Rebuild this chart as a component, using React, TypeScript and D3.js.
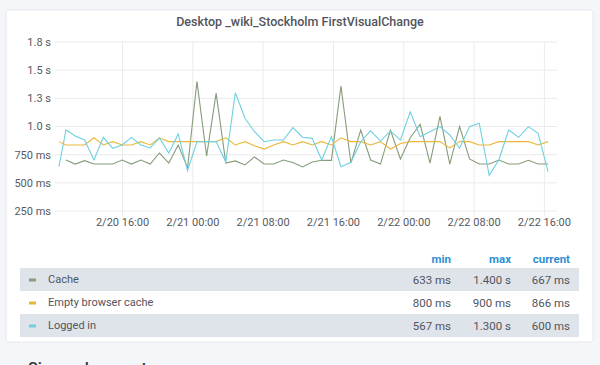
import React from 'react';
import * as d3 from 'd3';

// sample times (one run about every hour)
const times = [
  '2/20 08:46', '2/20 09:34', '2/20 10:37', '2/20 11:41', '2/20 12:45', '2/20 13:49', '2/20 14:53',
  '2/20 15:57', '2/20 17:01', '2/20 18:05', '2/20 19:09', '2/20 20:12', '2/20 21:16', '2/20 22:20',
  '2/20 23:24', '2/21 00:28', '2/21 01:34', '2/21 02:39', '2/21 03:45', '2/21 04:50', '2/21 05:56',
  '2/21 07:01', '2/21 08:07', '2/21 09:12', '2/21 10:18', '2/21 11:23', '2/21 12:29', '2/21 13:35',
  '2/21 14:40', '2/21 15:46', '2/21 16:51', '2/21 17:59', '2/21 19:06', '2/21 20:14', '2/21 21:21',
  '2/21 22:29', '2/21 23:37', '2/22 00:44', '2/22 01:52', '2/22 02:59', '2/22 04:07', '2/22 05:14',
  '2/22 06:21', '2/22 07:29', '2/22 08:35', '2/22 09:43', '2/22 10:49', '2/22 11:56', '2/22 13:04',
  '2/22 14:11', '2/22 15:17', '2/22 16:25',
];

// values in ms
const cache = [
  null, 703, 667, 697, 667, 667, 667, 703, 667, 703, 667, 765, 676, 835, 633, 1400, 738, 1297,
  676, 695, 659, 730, 667, 667, 703, 680, 641, 686, 700, 700, 1360, 676, 968, 703, 667, 968,
  712, 900, 1020, 676, 1090, 667, 1000, 712, 667, 667, 703, 667, 667, 700, 667, 667,
];
const emptyCache = [
  866, 836, 836, 836, 900, 836, 866, 836, 836, 866, 836, 900, 866, 866, 866, 866, 866, 866,
  900, 836, 866, 830, 800, 836, 866, 836, 866, 836, 866, 836, 900, 866, 866, 836, 866, 800,
  850, 866, 866, 866, 866, 810, 866, 866, 836, 836, 866, 866, 866, 866, 836, 866,
];
const loggedIn = [
  643, 969, 916, 880, 703, 904, 807, 836, 904, 836, 810, 898, 765, 934, 610, 865, 866, 866,
  685, 1300, 1073, 954, 865, 880, 880, 990, 905, 895, 703, 910, 643, 683, 865, 961, 871, 961,
  880, 1130, 910, 954, 999, 925, 807, 999, 1029, 567, 703, 969, 904, 999, 940, 600,
];

const seriesNames = ['Cache', 'Empty browser cache', 'Logged in'];
const seriesColors = ['#869c7a', '#EAB839', '#6ED0E0'];

const yTicks = [250, 500, 750, 1000, 1250, 1500, 1750];
const yTickLabels = ['250 ms', '500 ms', '750 ms', '1.0 s', '1.3 s', '1.5 s', '1.8 s'];
const xTicks = ['2/20 16:00', '2/21 00:00', '2/21 08:00', '2/21 16:00', '2/22 00:00', '2/22 08:00', '2/22 16:00'];
const timeRange = ['2/20 08:19', '2/22 17:26'];

const parseTime = d3.timeParse('%m/%d %H:%M');
const fmtTick = d3.timeFormat('%-m/%d %H:%M');

const fmtValue = (v: number) => (v >= 1000 ? `${(v / 1000).toFixed(3)} s` : `${Math.round(v)} ms`);

const W = 600;
const H = 365;
const plot = { left: 55, right: 557, top: 42, bottom: 216 };

export default function App() {
  const x = d3
    .scaleTime()
    .domain(timeRange.map((t) => parseTime(t) as Date))
    .range([plot.left, plot.right]);
  const y = d3.scaleLinear().domain([206, 1750]).range([plot.bottom, plot.top]);

  const allSeries = [cache, emptyCache, loggedIn];
  const dates = times.map((t) => parseTime(t) as Date);

  const line = d3
    .line<number | null>()
    .defined((d) => d != null)
    .x((_, i) => x(dates[i]))
    .y((d) => y(d as number));

  const font = 'Roboto, "Noto Sans", sans-serif';
  const rowTop = 268;
  const rowH = 23;
  const cols = [451, 511, 570];

  return (
    <svg width={W} height={H} style={{ position: 'absolute', left: 0, top: 0 }} fontFamily={font}>
      <rect x={0} y={0} width={W} height={H} fill="#f5f6f9" />
      <rect x={6} y={10} width={587} height={332} rx={3} fill="#fff" stroke="#e5e7eb" />

      <text x={300} y={26} textAnchor="middle" fontSize={12.5} fontWeight={500} fill="#52545c">
        Desktop _wiki_Stockholm FirstVisualChange
      </text>

      {/* grid */}
      {yTicks.map((t) => (
        <line key={t} x1={plot.left} x2={plot.right} y1={y(t)} y2={y(t)} stroke="#ebebeb" />
      ))}
      {xTicks.map((t) => {
        const xv = x(parseTime(t) as Date);
        return <line key={t} x1={xv} x2={xv} y1={plot.top} y2={plot.bottom} stroke="#ebebeb" />;
      })}

      {/* axis labels */}
      {yTicks.map((t, i) => (
        <text key={t} x={51} y={y(t)} dy="0.35em" textAnchor="end" fontSize={11} fill="#555a62">
          {yTickLabels[i]}
        </text>
      ))}
      {xTicks.map((t) => {
        const d = parseTime(t) as Date;
        return (
          <text key={t} x={x(d)} y={226} textAnchor="middle" fontSize={11} fill="#555a62">
            {fmtTick(d)}
          </text>
        );
      })}

      {/* series */}
      {allSeries.map((s, i) => (
        <path key={i} d={line(s) || ''} fill="none" stroke={seriesColors[i]} strokeWidth={1.1} />
      ))}

      {/* legend table */}
      {['min', 'max', 'current'].map((h, i) => (
        <text key={h} x={cols[i]} y={263} textAnchor="end" fontSize={11.5} fontWeight={700} fill="#2f8fd3">
          {h}
        </text>
      ))}
      {allSeries.map((s, i) => {
        const vals = s.filter((v) => v != null) as number[];
        const top = rowTop + i * rowH;
        const stats = [d3.min(vals) as number, d3.max(vals) as number, vals[vals.length - 1]];
        return (
          <g key={i}>
            {i % 2 === 0 && <rect x={20} y={top} width={559} height={rowH} fill="#dfe4eb" />}
            <rect x={29} y={top + rowH / 2 - 1} width={7} height={3} fill={seriesColors[i]} />
            <text x={48} y={top + rowH / 2} dy="0.35em" fontSize={11} fill="#52545c">
              {seriesNames[i]}
            </text>
            {stats.map((v, j) => (
              <text key={j} x={cols[j]} y={top + rowH / 2} dy="0.35em" textAnchor="end" fontSize={11.5} fill="#52545c">
                {fmtValue(v)}
              </text>
            ))}
          </g>
        );
      })}

      <text x={28} y={374} fontSize={16} fontWeight={500} fill="#333">
        Size and requests
      </text>
    </svg>
  );
}
